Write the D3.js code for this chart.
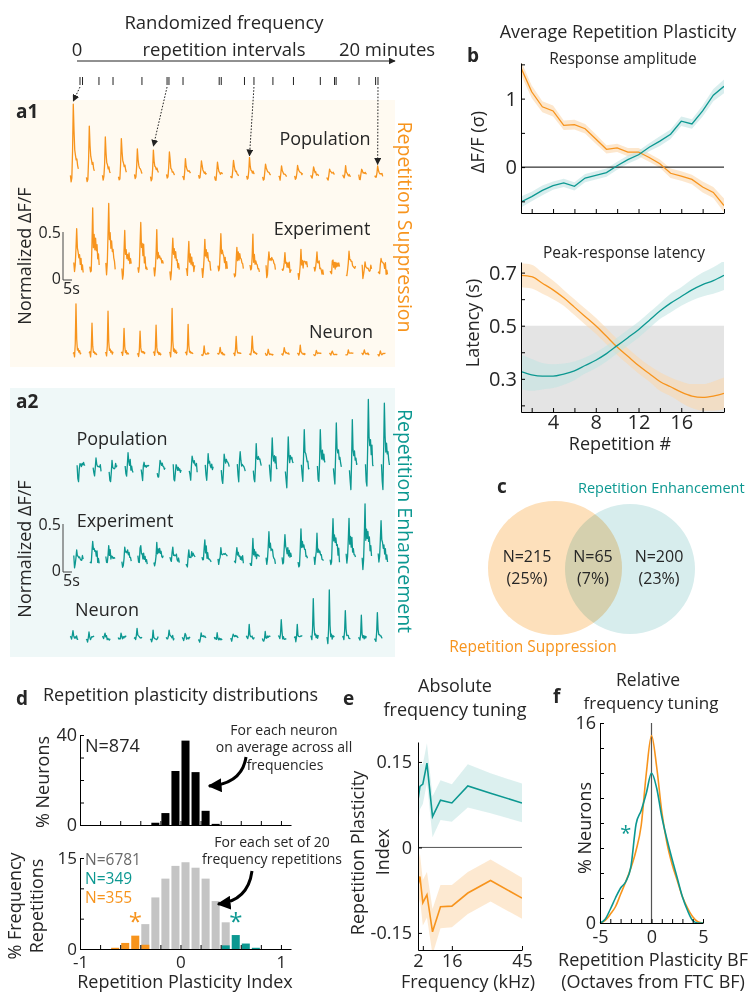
<!DOCTYPE html>
<html>
<head>
<meta charset="utf-8">
<script src="https://cdn.jsdelivr.net/npm/d3@7"></script>
<style>
  body { margin: 0; background: #fff; }
  svg { font-family: 'Open Sans', sans-serif; }
</style>
</head>
<body>
<svg id="fig" width="753" height="992"></svg>
<script>
// ---------------- data ----------------
const repetitions = [1, 2, 3, 4, 5, 6, 7, 8, 9, 10, 11, 12, 13, 14, 15, 16, 17, 18, 19, 20];

// onsets of the randomized repetition intervals (minutes)
const intervalTimes = [0.19, 0.35, 1.39, 2.28, 4.11, 5.7, 5.82, 6.71, 9.0, 9.13,
  10.6, 11.2, 12.4, 13.7, 15.4, 16.3, 16.4, 17.85, 18.9, 19.05];
const arrowReps = [1, 6, 12, 20];

// peak amplitude of every repetition (normalized dF/F)
const supPopPeaks = [0.75, 0.51, 0.41, 0.39, 0.28, 0.28, 0.25, 0.18, 0.15, 0.16, 0.15, 0.18, 0.12, 0.12, 0.10, 0.10, 0.09, 0.09, 0.08, 0.09];
const supExpPeaks = [0.44, 0.65, 0.68, 0.47, 0.47, 0.39, 0.33, 0.35, 0.30, 0.40, 0.30, 0.33, 0.23, 0.15, 0.25, 0.15, 0.15, 0.17, 0.15, 0.10];
const supNeuPeaks = [0.52, 0.33, 0.44, 0.27, 0.25, 0.29, 0.48, 0.30, 0.09, 0.06, 0.19, 0.18, 0.06, 0.06, 0.09, 0.04, 0.04, 0.04, 0.04, 0.04];
const enhPopPeaks = [0.08, 0.08, 0.11, 0.13, 0.10, 0.06, 0.09, 0.11, 0.15, 0.17, 0.22, 0.25, 0.31, 0.37, 0.39, 0.43, 0.44, 0.53, 0.68, 0.69];
const enhExpPeaks = [0.16, 0.18, 0.15, 0.16, 0.20, 0.18, 0.13, 0.15, 0.20, 0.16, 0.10, 0.25, 0.26, 0.28, 0.31, 0.30, 0.44, 0.44, 0.62, 0.42];
const enhNeuPeaks = [0.07, 0.08, 0.04, 0.06, 0.08, 0.09, 0.06, 0.05, 0.04, 0.06, 0.04, 0.14, 0.08, 0.19, 0.14, 0.40, 0.52, 0.27, 0.22, 0.26];

// response waveforms (one sample every 0.4 s), peak = 1
const supShape = [0.0, -0.06, 0.02, 0.35, 1.0, 0.62, 0.38, 0.3, 0.22, 0.25, 0.14, 0.1];
const expShape = [0.08, -0.04, 0.12, 0.5, 1.0, 0.42, 0.56, 0.34, 0.48, 0.28, 0.34, 0.14, 0.2, 0.06];
const neuShape = [0.02, 0.06, -0.03, 0.2, 1.0, 0.28, 0.06, 0.1, 0.02, 0.06, 0.0, 0.03];
const enhShape = [0.05, -0.1, -0.15, 0.3, 1.0, 0.45, 0.3, 0.42, 0.22, 0.3, 0.12, 0.06];
const dipShape = [0, -0.6, -1, -0.3, 0, 0, 0, 0, 0, 0, 0, 0, 0, 0];
const noisePattern = [0.3, -0.8, 0.5, 0.1, -0.4, 0.9, -0.2, -0.7, 0.6, 0.2, -0.5, 0.8, -0.1, -0.9, 0.4, 0.7, -0.3, 0.0, -0.6,
  0.5, 0.9, -0.4, 0.2, -0.8, 0.1, 0.6, -0.2, -0.5, 0.8, -0.7, 0.3, 0.4, -0.9, 0.0, 0.7, -0.3, 0.5];

// b: response amplitude (sigma) and peak latency (s) per repetition
const ampSup = [1.45, 1.10, 0.88, 0.82, 0.61, 0.62, 0.56, 0.41, 0.26, 0.28, 0.22, 0.22, 0.14, 0.05, -0.09, -0.13, -0.18, -0.29, -0.37, -0.56];
const ampSupErr = [0.10, 0.09, 0.08, 0.08, 0.07, 0.07, 0.07, 0.07, 0.06, 0.06, 0.06, 0.06, 0.06, 0.06, 0.07, 0.07, 0.07, 0.08, 0.08, 0.10];
const ampEnh = [-0.51, -0.43, -0.34, -0.27, -0.23, -0.28, -0.16, -0.12, -0.08, 0.02, 0.11, 0.18, 0.29, 0.38, 0.48, 0.67, 0.63, 0.82, 1.05, 1.18];
const ampEnhErr = [0.08, 0.07, 0.07, 0.06, 0.06, 0.06, 0.06, 0.06, 0.06, 0.06, 0.06, 0.06, 0.06, 0.07, 0.07, 0.07, 0.07, 0.08, 0.09, 0.10];
const latSup = [0.69, 0.685, 0.66, 0.635, 0.605, 0.57, 0.535, 0.50, 0.46, 0.42, 0.385, 0.35, 0.32, 0.29, 0.27, 0.25, 0.235, 0.23, 0.235, 0.245];
const latSupErr = [0.045, 0.045, 0.04, 0.035, 0.03, 0.03, 0.03, 0.03, 0.03, 0.03, 0.03, 0.03, 0.03, 0.035, 0.035, 0.04, 0.045, 0.05, 0.055, 0.06];
const latEnh = [0.327, 0.315, 0.31, 0.31, 0.318, 0.33, 0.35, 0.37, 0.395, 0.425, 0.455, 0.485, 0.52, 0.555, 0.585, 0.61, 0.635, 0.655, 0.67, 0.69];
const latEnhErr = [0.065, 0.06, 0.05, 0.045, 0.04, 0.035, 0.03, 0.03, 0.03, 0.03, 0.03, 0.03, 0.03, 0.03, 0.035, 0.035, 0.04, 0.045, 0.05, 0.055];
const ampTicks = [-0.5, 0, 0.5, 1, 1.5];
const ampLabels = [0, 1];
const latTicks = [0.2, 0.3, 0.4, 0.5, 0.6, 0.7];
const latLabels = [0.3, 0.5, 0.7];
const repTicks = [2, 4, 6, 8, 10, 12, 14, 16, 18, 20];
const repLabels = [4, 8, 12, 16];
const latThreshold = 0.5;

// c: Venn counts
const vennSup = { n: 215, pct: 25 };
const vennBoth = { n: 65, pct: 7 };
const vennEnh = { n: 200, pct: 23 };

// d: histograms (bin centre, %)
const neuronBins = [-0.25, -0.15, -0.05, 0.05, 0.15, 0.25, 0.35];
const neuronPct = [1.0, 5.3, 24, 37.5, 23.5, 6.3, 0.5];
const allBins = [-0.35, -0.25, -0.15, -0.05, 0.05, 0.15, 0.25, 0.35, 0.45];
const allPct = [4.1, 8.5, 11.6, 13.7, 14.3, 13.4, 11.6, 7.9, 4.4];
const supBins = [-0.65, -0.55, -0.45, -0.35];
const supPct = [0.2, 1.0, 2.2, 0.7];
const enhBins = [0.45, 0.55, 0.65, 0.75];
const enhPct = [0.6, 2.3, 0.9, 0.2];
const rpiTicks = [-0.8, -0.6, -0.4, -0.2, 0, 0.2, 0.4, 0.6, 0.8, 1];
const rpiLabels = [-1, 0, 1];

// e: absolute frequency tuning
const freqs = [2, 2.8, 4, 5.7, 8, 11.3, 16, 22.6, 32, 45];
const rpiEnh = [0.083, 0.107, 0.111, 0.148, 0.054, 0.083, 0.078, 0.108, 0.095, 0.078];
const rpiEnhErr = [0.045, 0.04, 0.035, 0.035, 0.036, 0.035, 0.033, 0.038, 0.035, 0.034];
const rpiSup = [-0.066, -0.051, -0.097, -0.083, -0.148, -0.104, -0.103, -0.080, -0.058, -0.089];
const rpiSupErr = [0.04, 0.04, 0.04, 0.04, 0.04, 0.038, 0.037, 0.037, 0.037, 0.036];
const freqLabels = [2, 16, 45];
const rpiYLabels = [-0.15, 0, 0.15];

// f: relative frequency tuning
const octaves = [-5, -4.5, -4, -3.5, -3, -2.5, -2, -1.5, -1, -0.5, 0, 0.5, 1, 1.5, 2, 2.5, 3, 3.5, 4, 4.5, 5];
const relEnh = [0, 0.3, 1.1, 2.0, 2.8, 3.3, 4.5, 7.9, 9.0, 10.4, 12, 10.8, 8.5, 6.7, 5.1, 3.6, 2.1, 1.0, 0.2, 0, 0];
const relSup = [0, 0.2, 0.7, 1.3, 2.3, 3.3, 4.4, 5.8, 7.8, 12.0, 15, 12.5, 8.9, 6.4, 4.7, 3.4, 2.1, 1.2, 0.5, 0.1, 0];
const octTicks = [-5, -4, -3, -2, -1, 0, 1, 2, 3, 4, 5];
const octLabels = [-5, 0, 5];
const pctTicks = [0, 2, 4, 6, 8, 10, 12, 14, 16];
const pctLabels = [0, 16];

// ---------------- styles ----------------
const ORANGE = '#f7941d';
const TEAL = '#0c9891';
const ORANGE_BAND = '#fbd7ab';
const TEAL_BAND = '#bfe3e2';
const TEXT = '#262626';

const svg = d3.select('#fig');
const defs = svg.append('defs');

function marker(id, size, color) {
  defs.append('marker')
    .attr('id', id)
    .attr('viewBox', '0 0 10 10')
    .attr('refX', 9).attr('refY', 5)
    .attr('markerWidth', size).attr('markerHeight', size)
    .attr('markerUnits', 'userSpaceOnUse')
    .attr('orient', 'auto')
    .append('path')
    .attr('d', 'M0,0 L10,5 L0,10 Z')
    .attr('fill', color);
}
marker('headSmall', 7, '#222');
marker('headBig', 14, '#000');

function label(g, x, y, str, o = {}) {
  const t = g.append('text')
    .attr('x', x).attr('y', y)
    .attr('font-size', o.size || 18)
    .attr('fill', o.color || TEXT)
    .attr('text-anchor', o.anchor || 'start')
    .text(str);
  if (o.weight) t.attr('font-weight', o.weight);
  return t;
}

// rotated label centred on (cx, cy)
function vlabel(g, cx, cy, str, angle, o = {}) {
  g.append('text')
    .attr('transform', `translate(${cx},${cy}) rotate(${angle})`)
    .attr('dy', '0.35em')
    .attr('text-anchor', 'middle')
    .attr('font-size', o.size || 18)
    .attr('fill', o.color || TEXT)
    .text(str);
}

function styleAxis(sel, size) {
  sel.select('.domain').attr('stroke', '#000');
  sel.selectAll('.tick line').attr('stroke', '#000');
  sel.selectAll('.tick text')
    .attr('font-size', size)
    .attr('font-family', "'Open Sans', sans-serif")
    .attr('fill', TEXT);
}

function fmtTick(labels) {
  return (d) => (labels.includes(d) ? String(d) : '');
}

// ---------------- timeline ----------------
const tx = d3.scaleLinear().domain([0, 20]).range([77, 393]);
label(svg, 224, 29, 'Randomized frequency', { anchor: 'middle', size: 18.5 });
label(svg, tx(0), 56, '0', { anchor: 'middle', size: 18.5 });
label(svg, 224, 56, 'repetition intervals', { anchor: 'middle', size: 18.5 });
label(svg, 387, 56, '20 minutes', { anchor: 'middle', size: 18.5 });
svg.append('line')
  .attr('x1', tx(0)).attr('x2', tx(20) + 2)
  .attr('y1', 61).attr('y2', 61)
  .attr('stroke', '#222').attr('stroke-width', 1)
  .attr('marker-end', 'url(#headSmall)');
svg.append('g').selectAll('line')
  .data(intervalTimes)
  .join('line')
  .attr('x1', (d) => tx(d)).attr('x2', (d) => tx(d))
  .attr('y1', 77).attr('y2', 85)
  .attr('stroke', '#222').attr('stroke-width', 1);

// ---------------- a1 / a2 traces ----------------
svg.append('rect').attr('x', 10).attr('y', 100).attr('width', 385).attr('height', 267).attr('fill', '#fffaf1');
svg.append('rect').attr('x', 10).attr('y', 388).attr('width', 385).attr('height', 269).attr('fill', '#eff8f8');

const repPeriodSec = 8.9;
const sampleSec = 0.4;

const traceRows = [
  { peaks: supPopPeaks, shape: supShape, start: 70.4, base: 176, noise: 0.02, dip: 0.03, color: ORANGE },
  { peaks: supExpPeaks, shape: expShape, start: 73.8, base: 271, noise: 0.06, dip: 0.04, color: ORANGE },
  { peaks: supNeuPeaks, shape: neuShape, start: 73.1, base: 354, noise: 0.012, dip: 0.01, color: ORANGE },
  { peaks: enhPopPeaks, shape: enhShape, start: 77.1, base: 469, noise: 0.05, dip: 0.1, color: TEAL },
  { peaks: enhExpPeaks, shape: expShape, start: 73.8, base: 561, noise: 0.05, dip: 0.04, color: TEAL },
  { peaks: enhNeuPeaks, shape: neuShape, start: 70.1, base: 638, noise: 0.025, dip: 0.02, color: TEAL },
];

traceRows.forEach((row, r) => {
  row.x = d3.scaleLinear().domain([0, 5]).range([row.start, row.start + 9]);
  row.y = d3.scaleLinear().domain([0, 0.5]).range([row.base, row.base - 48]);
  const line = d3.line().x((d) => row.x(d[0])).y((d) => row.y(d[1]));
  const g = svg.append('g');
  row.peaks.forEach((p, i) => {
    const pts = row.shape.map((s, k) => [
      i * repPeriodSec + k * sampleSec,
      p * s + row.dip * dipShape[k] + row.noise * noisePattern[(i * 7 + k * 3 + r * 5) % noisePattern.length],
    ]);
    g.append('path')
      .attr('d', line(pts))
      .attr('fill', 'none')
      .attr('stroke', row.color)
      .attr('stroke-width', 1.3)
      .attr('stroke-linejoin', 'round');
  });
});

// dotted arrows from the timeline to the population trace
const pop = traceRows[0];
arrowReps.forEach((rep) => {
  const i = rep - 1;
  svg.append('line')
    .attr('x1', tx(intervalTimes[i])).attr('y1', 87)
    .attr('x2', pop.x(i * repPeriodSec + 4 * sampleSec))
    .attr('y2', pop.y(pop.peaks[i]) - 3)
    .attr('stroke', '#222').attr('stroke-width', 1)
    .attr('stroke-dasharray', '1.6,1.6')
    .attr('marker-end', 'url(#headSmall)');
});

// labels for a1 / a2
label(svg, 16, 118, 'a1', { weight: 'bold', size: 19 });
label(svg, 325, 145, 'Population', { anchor: 'middle' });
label(svg, 322, 235, 'Experiment', { anchor: 'middle' });
label(svg, 341, 338, 'Neuron', { anchor: 'middle' });
vlabel(svg, 25, 256, 'Normalized ΔF/F', -90);
vlabel(svg, 405, 227, 'Repetition Suppression', 90, { color: ORANGE, size: 19.5 });

label(svg, 16, 408, 'a2', { weight: 'bold', size: 19 });
label(svg, 122, 445, 'Population', { anchor: 'middle' });
label(svg, 125, 527, 'Experiment', { anchor: 'middle' });
label(svg, 107, 616, 'Neuron', { anchor: 'middle' });
vlabel(svg, 25, 549, 'Normalized ΔF/F', -90);
vlabel(svg, 405, 521, 'Repetition Enhancement', 90, { color: TEAL, size: 19.5 });

// scale bars (0.5 dF/F, 5 s)
[280, 572].forEach((zero) => {
  const sy = d3.scaleLinear().domain([0, 0.5]).range([zero, zero - 48]);
  const sx = d3.scaleLinear().domain([0, 5]).range([63, 72]);
  svg.append('path')
    .attr('d', `M${sx(0)},${sy(0.5)} L${sx(0)},${sy(0)} L${sx(5)},${sy(0)}`)
    .attr('fill', 'none').attr('stroke', '#444').attr('stroke-width', 1);
  label(svg, 61, sy(0.5) + 6, '0.5', { anchor: 'end', size: 16 });
  label(svg, 61, sy(0) + 4, '0', { anchor: 'end', size: 16 });
  label(svg, 63, sy(0) + 14, '5s', { size: 16 });
});

// ---------------- b ----------------
const bx = d3.scaleLinear().domain([1, 20]).range([521, 724]);
label(svg, 618, 38, 'Average Repetition Plasticity', { anchor: 'middle' });
label(svg, 467, 62, 'b', { weight: 'bold', size: 19 });
label(svg, 623, 64, 'Response amplitude', { anchor: 'middle', size: 15.5 });

const byA = d3.scaleLinear().domain([-0.67, 1.52]).range([213, 63]);
defs.append('clipPath').attr('id', 'clipBA').append('rect')
  .attr('x', 521).attr('y', 63).attr('width', 203).attr('height', 150);
const gA = svg.append('g').attr('clip-path', 'url(#clipBA)');
[[ampSup, ampSupErr, ORANGE_BAND], [ampEnh, ampEnhErr, TEAL_BAND]].forEach(([v, e, band]) => {
  gA.append('path')
    .attr('d', d3.area().x((d, i) => bx(repetitions[i])).y0((d, i) => byA(d - e[i])).y1((d, i) => byA(d + e[i]))(v))
    .attr('fill', band).attr('opacity', 0.6);
});
gA.append('line').attr('x1', bx(1)).attr('x2', bx(20)).attr('y1', byA(0)).attr('y2', byA(0)).attr('stroke', '#000');
[[ampSup, ORANGE], [ampEnh, TEAL]].forEach(([v, c]) => {
  gA.append('path')
    .attr('d', d3.line().x((d, i) => bx(repetitions[i])).y((d) => byA(d))(v))
    .attr('fill', 'none').attr('stroke', c).attr('stroke-width', 1.3);
});
styleAxis(svg.append('g').attr('transform', 'translate(0,213)')
  .call(d3.axisBottom(bx).tickValues(repTicks).tickFormat('').tickSizeInner(-4).tickSizeOuter(0)), 20);
styleAxis(svg.append('g').attr('transform', 'translate(521,0)')
  .call(d3.axisLeft(byA).tickValues(ampTicks).tickFormat(fmtTick(ampLabels)).tickSizeInner(-4).tickSizeOuter(0).tickPadding(4)), 20);
vlabel(svg, 478, 142, 'ΔF/F (σ)', -90);

label(svg, 624, 258, 'Peak-response latency', { anchor: 'middle', size: 15.5 });
const byL = d3.scaleLinear().domain([0.175, 0.74]).range([412, 262]);
defs.append('clipPath').attr('id', 'clipBL').append('rect')
  .attr('x', 521).attr('y', 262).attr('width', 203).attr('height', 150);
const gL = svg.append('g').attr('clip-path', 'url(#clipBL)');
gL.append('rect')
  .attr('x', bx(1)).attr('y', byL(latThreshold))
  .attr('width', bx(20) - bx(1)).attr('height', byL(0.175) - byL(latThreshold))
  .attr('fill', '#e4e4e4');
[[latSup, latSupErr, ORANGE_BAND], [latEnh, latEnhErr, TEAL_BAND]].forEach(([v, e, band]) => {
  gL.append('path')
    .attr('d', d3.area().curve(d3.curveMonotoneX).x((d, i) => bx(repetitions[i])).y0((d, i) => byL(d - e[i])).y1((d, i) => byL(d + e[i]))(v))
    .attr('fill', band).attr('opacity', 0.55);
});
[[latSup, ORANGE], [latEnh, TEAL]].forEach(([v, c]) => {
  gL.append('path')
    .attr('d', d3.line().curve(d3.curveMonotoneX).x((d, i) => bx(repetitions[i])).y((d) => byL(d))(v))
    .attr('fill', 'none').attr('stroke', c).attr('stroke-width', 1.3);
});
styleAxis(svg.append('g').attr('transform', 'translate(0,412)')
  .call(d3.axisBottom(bx).tickValues(repTicks).tickFormat(fmtTick(repLabels)).tickSizeInner(-4).tickSizeOuter(0).tickPadding(3)), 20);
styleAxis(svg.append('g').attr('transform', 'translate(521,0)')
  .call(d3.axisLeft(byL).tickValues(latTicks).tickFormat(fmtTick(latLabels)).tickSizeInner(-4).tickSizeOuter(0).tickPadding(4)), 20);
vlabel(svg, 473, 323, 'Latency (s)', -90);
label(svg, 620, 450, 'Repetition #', { anchor: 'middle' });

// ---------------- c ----------------
label(svg, 497, 493, 'c', { weight: 'bold', size: 19 });
label(svg, 578, 493, 'Repetition Enhancement', { color: TEAL, size: 14.5 });
svg.append('circle').attr('cx', 555).attr('cy', 568).attr('r', 67).attr('fill', '#fde0bb');
svg.append('circle').attr('cx', 630).attr('cy', 569).attr('r', 65).attr('fill', '#d7eded')
  .style('mix-blend-mode', 'multiply');
[[527, vennSup], [593, vennBoth], [659, vennEnh]].forEach(([x, v]) => {
  label(svg, x, 562, `N=${v.n}`, { anchor: 'middle', size: 16 });
  label(svg, x, 584, `(${v.pct}%)`, { anchor: 'middle', size: 16 });
});
label(svg, 533, 652, 'Repetition Suppression', { anchor: 'middle', color: ORANGE, size: 15.5 });

// ---------------- d ----------------
label(svg, 16, 705, 'd', { weight: 'bold', size: 19 });
label(svg, 43, 701, 'Repetition plasticity distributions');
const dx = d3.scaleLinear().domain([-1, 1.1]).range([80, 291]);
const dyTop = d3.scaleLinear().domain([0, 40]).range([825, 735]);
const dyBot = d3.scaleLinear().domain([0, 15]).range([949, 858]);
const halfBar = 0.04;

function bars(yScale, bins, vals, color) {
  svg.append('g').selectAll('rect')
    .data(bins)
    .join('rect')
    .attr('x', (d) => dx(d - halfBar))
    .attr('width', (d) => dx(d + halfBar) - dx(d - halfBar))
    .attr('y', (d, i) => yScale(vals[i]))
    .attr('height', (d, i) => yScale(0) - yScale(vals[i]))
    .attr('fill', color);
}
bars(dyTop, neuronBins, neuronPct, '#000');
bars(dyBot, allBins, allPct, '#c4c4c4');
bars(dyBot, supBins, supPct, ORANGE);
bars(dyBot, enhBins, enhPct, TEAL);

styleAxis(svg.append('g').attr('transform', 'translate(0,825)')
  .call(d3.axisBottom(dx).tickValues(rpiTicks).tickFormat('').tickSizeInner(-4).tickSizeOuter(0)), 18);
styleAxis(svg.append('g').attr('transform', 'translate(80,0)')
  .call(d3.axisLeft(dyTop).tickValues([0, 10, 20, 30, 40]).tickFormat(fmtTick([0, 40])).tickSizeInner(-4).tickSizeOuter(0).tickPadding(3)), 18);
styleAxis(svg.append('g').attr('transform', 'translate(0,949)')
  .call(d3.axisBottom(dx).tickValues(rpiTicks.concat([-1])).tickFormat(fmtTick(rpiLabels)).tickSizeInner(-4).tickSizeOuter(0).tickPadding(7)), 17);
styleAxis(svg.append('g').attr('transform', 'translate(80,0)')
  .call(d3.axisLeft(dyBot).tickValues([0, 5, 10, 15]).tickFormat(fmtTick([0, 15])).tickSizeInner(-4).tickSizeOuter(0).tickPadding(3)), 17);

vlabel(svg, 43, 782, '% Neurons', -90);
vlabel(svg, 15, 906, '% Frequency', -90);
vlabel(svg, 37, 906, 'Repetitions', -90);
label(svg, 185, 988, 'Repetition Plasticity Index', { anchor: 'middle' });
label(svg, 85, 752, 'N=874');
label(svg, 85, 865, 'N=6781', { color: '#6a6a6a', size: 15.5 });
label(svg, 85, 884, 'N=349', { color: TEAL, size: 15.5 });
label(svg, 85, 903, 'N=355', { color: ORANGE, size: 15.5 });
label(svg, dx(-0.45), 930, '*', { anchor: 'middle', color: ORANGE, size: 24 });
label(svg, dx(0.55), 930, '*', { anchor: 'middle', color: TEAL, size: 24 });

label(svg, 284, 735, 'For each neuron', { anchor: 'middle', size: 14 });
label(svg, 284, 752, 'on average across all', { anchor: 'middle', size: 14 });
label(svg, 285, 770, 'frequencies', { anchor: 'middle', size: 14 });
label(svg, 272, 847, 'For each set of 20', { anchor: 'middle', size: 14 });
label(svg, 272, 864, 'frequency repetitions', { anchor: 'middle', size: 14 });
svg.append('path').attr('d', 'M246,757 Q242,784 209,786')
  .attr('fill', 'none').attr('stroke', '#000').attr('stroke-width', 3)
  .attr('marker-end', 'url(#headBig)');
svg.append('path').attr('d', 'M252,871 Q248,901 218,904')
  .attr('fill', 'none').attr('stroke', '#000').attr('stroke-width', 3)
  .attr('marker-end', 'url(#headBig)');

// ---------------- e ----------------
label(svg, 343, 705, 'e', { weight: 'bold', size: 19 });
label(svg, 455, 692, 'Absolute', { anchor: 'middle' });
label(svg, 455, 716, 'frequency tuning', { anchor: 'middle' });
const ex = d3.scaleLinear().domain([2, 45]).range([418, 522]);
const ey = d3.scaleLinear().domain([-0.18, 0.185]).range([950, 742]);
defs.append('clipPath').attr('id', 'clipE').append('rect')
  .attr('x', 418).attr('y', 742).attr('width', 104).attr('height', 208);
const gE = svg.append('g').attr('clip-path', 'url(#clipE)');
[[rpiEnh, rpiEnhErr, TEAL_BAND], [rpiSup, rpiSupErr, ORANGE_BAND]].forEach(([v, e, band]) => {
  gE.append('path')
    .attr('d', d3.area().x((d, i) => ex(freqs[i])).y0((d, i) => ey(d - e[i])).y1((d, i) => ey(d + e[i]))(v))
    .attr('fill', band).attr('opacity', 0.55);
});
gE.append('line').attr('x1', ex(2)).attr('x2', ex(45)).attr('y1', ey(0)).attr('y2', ey(0)).attr('stroke', '#555');
[[rpiEnh, TEAL], [rpiSup, ORANGE]].forEach(([v, c]) => {
  gE.append('path')
    .attr('d', d3.line().x((d, i) => ex(freqs[i])).y((d) => ey(d))(v))
    .attr('fill', 'none').attr('stroke', c).attr('stroke-width', 1.6);
});
styleAxis(svg.append('g').attr('transform', 'translate(0,950)')
  .call(d3.axisBottom(ex).tickValues([2, 4, 16, 45]).tickFormat(fmtTick(freqLabels)).tickSizeInner(-4).tickSizeOuter(0).tickPadding(4)), 18);
styleAxis(svg.append('g').attr('transform', 'translate(418,0)')
  .call(d3.axisLeft(ey).tickValues(rpiYLabels).tickFormat((d) => (d === 0 ? '0' : d.toFixed(2))).tickSizeInner(-4).tickSizeOuter(0).tickPadding(6)), 18);
vlabel(svg, 358, 853, 'Repetition Plasticity', -90);
vlabel(svg, 383, 852, 'Index', -90);
label(svg, 468, 988, 'Frequency (kHz)', { anchor: 'middle' });

// ---------------- f ----------------
label(svg, 553, 703, 'f', { weight: 'bold', size: 19 });
label(svg, 648, 686, 'Relative', { anchor: 'middle', size: 17.5 });
label(svg, 651, 709, 'frequency tuning', { anchor: 'middle', size: 17 });
const fx = d3.scaleLinear().domain([-5, 5]).range([600, 703]);
const fy = d3.scaleLinear().domain([0, 16]).range([923, 723]);
svg.append('line').attr('x1', fx(0)).attr('x2', fx(0)).attr('y1', fy(0)).attr('y2', fy(16))
  .attr('stroke', '#555').attr('stroke-width', 1.2);
[[relSup, ORANGE], [relEnh, TEAL]].forEach(([v, c]) => {
  svg.append('path')
    .attr('d', d3.line().curve(d3.curveMonotoneX).x((d, i) => fx(octaves[i])).y((d) => fy(d))(v))
    .attr('fill', 'none').attr('stroke', c).attr('stroke-width', 1.6);
});
styleAxis(svg.append('g').attr('transform', 'translate(0,923)')
  .call(d3.axisBottom(fx).tickValues(octTicks).tickFormat(fmtTick(octLabels)).tickSizeInner(-4).tickSizeOuter(0).tickPadding(7)), 18);
styleAxis(svg.append('g').attr('transform', 'translate(600,0)')
  .call(d3.axisLeft(fy).tickValues(pctTicks).tickFormat(fmtTick(pctLabels)).tickSizeInner(-4).tickSizeOuter(0).tickPadding(4)), 18);
vlabel(svg, 585, 828, '% Neurons', -90);
label(svg, fx(-2.5), 840, '*', { anchor: 'middle', color: TEAL, size: 20 });
label(svg, 653, 966, 'Repetition Plasticity BF', { anchor: 'middle' });
label(svg, 653, 988, '(Octaves from FTC BF)', { anchor: 'middle' });
</script>
</body>
</html>
